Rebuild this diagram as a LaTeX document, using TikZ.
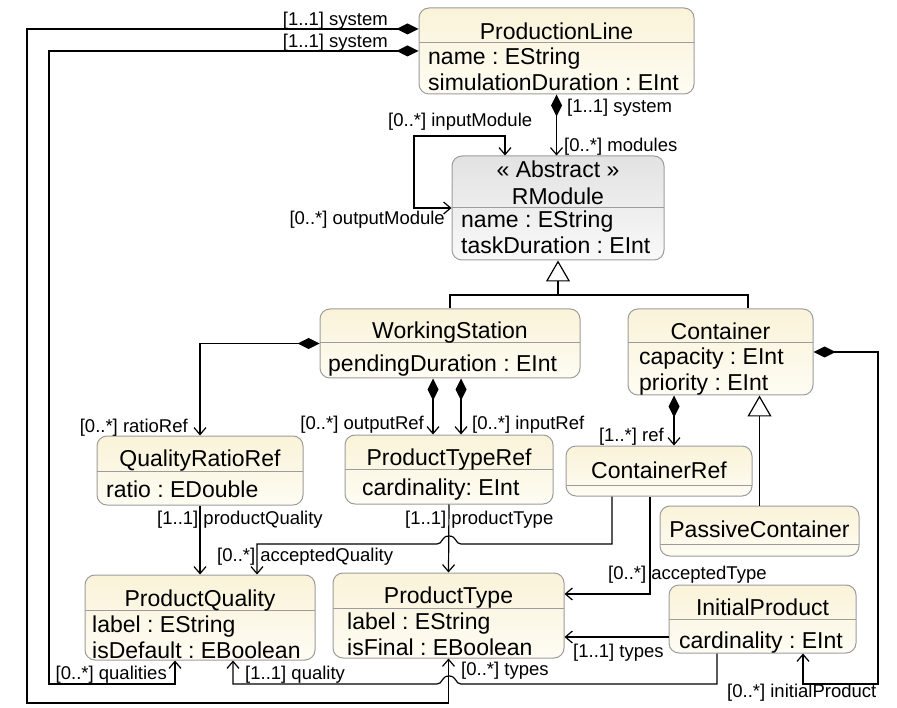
\documentclass[tikz,border=0pt]{standalone}
\usepackage{fontspec}
\setmainfont{Liberation Sans}
\usetikzlibrary{arrows.meta,fit}
\frenchspacing

\definecolor{creamtop}{HTML}{FAF3D9}
\definecolor{creambot}{HTML}{FEFCF3}
\definecolor{greytop}{HTML}{E2E2E2}
\definecolor{greybot}{HTML}{F9F9F9}
\definecolor{boxline}{HTML}{9C9C9C}

\tikzset{
  cls/.style={draw=boxline, line width=1pt, rounded corners=10pt, inner sep=0pt,
    top color=creamtop, bottom color=creambot},
  abscls/.style={cls, top color=greytop, bottom color=greybot},
  divider/.style={draw=boxline, line width=1pt},
  ttl/.style={font=\fontsize{23}{26}\selectfont, inner sep=0pt, anchor=base},
  attr/.style={font=\fontsize{23}{26}\selectfont, inner sep=0pt, anchor=base west},
  lbl/.style={font=\fontsize{18.5}{20}\selectfont, inner sep=0pt},
  conn/.style={line width=1.2pt, black},
  assoc/.style={conn, -{Straight Barb[length=7pt,width=12pt]}},
  comp/.style={conn, {Diamond[length=22pt,width=11pt]}-{Straight Barb[length=7pt,width=12pt]}},
  biassoc/.style={conn, {Straight Barb[length=7pt,width=12pt]}-{Straight Barb[length=7pt,width=12pt]}},
  gen/.style={conn, -{Triangle[length=21pt,width=24pt,fill=white]}},
}

% class frame: id, x1, y1, x2, y2, divider y, style
\newcommand\umlframe[7]{%
  \node[#7, fit={(#2,#3) (#4,#5)}] (#1) {};
  \draw[divider] (#2,#6) -- (#4,#6);
}

\begin{document}
\begin{tikzpicture}[x=1pt,y=-1pt]
\useasboundingbox (0,0) rectangle (897,708);
\fill[white] (0,0) rectangle (897,708);

% ---- classes ----
\umlframe{pl}{419}{8}{694}{94}{43}{cls}
\node[ttl] (pl-t) at (556.5,40) {ProductionLine};
\node[attr] (pl-a1) at (428,65) {name : EString};
\node[attr] (pl-a2) at (428,91) {simulationDuration : EInt};

\umlframe{rm}{452}{156}{664}{260}{208}{abscls}
\node[ttl] (rm-s) at (558,178) {« Abstract »};
\node[ttl] (rm-t) at (558,205) {RModule};
\node[attr] (rm-a1) at (461,228) {name : EString};
\node[attr] (rm-a2) at (461,254) {taskDuration : EInt};

\umlframe{ws}{320}{309}{580}{378}{343}{cls}
\node[ttl] (ws-t) at (450,339) {WorkingStation};
\node[attr] (ws-a1) at (328,372) {pendingDuration : EInt};

\umlframe{ct}{628}{309}{813}{395}{343}{cls}
\node[ttl] (ct-t) at (720.5,340) {Container};
\node[attr] (ct-a1) at (639,365) {capacity : EInt};
\node[attr] (ct-a2) at (639,391) {priority : EInt};

\umlframe{qrr}{97}{436}{303}{505}{471}{cls}
\node[ttl] (qrr-t) at (200,466) {QualityRatioRef};
\node[attr] (qrr-a1) at (106,497) {ratio : EDouble};

\umlframe{ptr}{345}{435}{553}{504}{469}{cls}
\node[ttl] (ptr-t) at (449,465) {ProductTypeRef};
\node[attr] (ptr-a1) at (362,495) {cardinality: EInt};

\umlframe{cr}{566}{446}{752}{496}{485}{cls}
\node[ttl] (cr-t) at (659,478) {ContainerRef};

\umlframe{pc}{660}{506}{859}{556}{544}{cls}
\node[ttl] (pc-t) at (759.5,537) {PassiveContainer};

\umlframe{pq}{85}{575}{315}{660}{610}{cls}
\node[ttl] (pq-t) at (200,606) {ProductQuality};
\node[attr] (pq-a1) at (92,632) {label : EString};
\node[attr] (pq-a2) at (92,658) {isDefault : EBoolean};

\umlframe{pt}{333}{573}{564}{658}{608}{cls}
\node[ttl] (pt-t) at (448.5,603) {ProductType};
\node[attr] (pt-a1) at (347,629) {label : EString};
\node[attr] (pt-a2) at (347,655) {isFinal : EBoolean};

\umlframe{ip}{669}{585}{856}{653}{619}{cls}
\node[ttl] (ip-t) at (762.5,615) {InitialProduct};
\node[attr] (ip-a1) at (679,648) {cardinality : EInt};

% ---- generalizations ----
\coordinate (gtrunk) at (558,295);
\draw[gen] (gtrunk) -- (rm.south);
\draw[conn] (ws.north) -- (450,295) -- (748,295) -- ([xshift=27.5pt]ct.north);
\draw[gen] (pc.north) -- ([xshift=39pt]ct.south);

% ---- compositions ----
\draw[comp] ([yshift=22pt]pl.west) -- (27,29) -- (27,703) -- (448.5,703) -- (pt.south);
\draw[comp] (pl.west) -- (49,51) -- (49,684) -- (175,684) -- ([xshift=-25pt]pq.south);
\draw[comp] (pl.south) -- (pl.south |- rm.north);
\draw[comp] (ws.west) -- (200,343.5) -- (qrr.north);
\draw[comp] ([xshift=-17pt]ws.south) -- ([xshift=-16pt]ptr.north);
\draw[comp] ([xshift=11pt]ws.south) -- ([xshift=12pt]ptr.north);
\draw[comp] ([xshift=-46.5pt]ct.south) -- ([xshift=15pt]cr.north);
\draw[comp] (ct.east) -- (878,352) -- (878,684) -- (803,684) -- ([xshift=40.5pt]ip.south);

% ---- references ----
\draw[biassoc] ([xshift=-53pt]rm.north) -- (505,136) -- (414,136) -- (414,208) -- (rm.west);
\draw[assoc] (qrr.south) -- (pq.north);
\draw[assoc] (ptr.south) -- (pt.north);
\draw[assoc] ([xshift=-47pt]cr.south) -- (612,544) -- (461,544)
  .. controls (455,544) and (457,536) .. (449,536)
  .. controls (441,536) and (443,544) .. (437,544)
  -- (257,544) -- ([xshift=57pt]pq.north);
\draw[assoc] ([xshift=-9pt]cr.south) -- (650,594) -- ([yshift=21.5pt]pt.east);
\draw[assoc] ([yshift=-18pt]ip.west) -- ([yshift=-21.5pt]pt.east);
\draw[assoc] ([xshift=-45.5pt]ip.south) -- (717,684) -- (461,684)
  .. controls (455,684) and (457,676) .. (449,676)
  .. controls (441,676) and (443,684) .. (437,684)
  -- (233,684) -- ([xshift=33pt]pq.south);

% ---- role labels ----
\node[lbl, anchor=base east] (l1) at (388,26) {[1..1] system};
\node[lbl, anchor=base east] (l2) at (388,48) {[1..1] system};
\node[lbl, anchor=base west] (l3) at (567,113) {[1..1] system};
\node[lbl, anchor=base west] (l4) at (564,152) {[0..*] modules};
\node[lbl, anchor=base west] (l5) at (388,127) {[0..*] inputModule};
\node[lbl, anchor=base east] (l6) at (445,225) {[0..*] outputModule};
\node[lbl, anchor=base east] (l7) at (188,432) {[0..*] ratioRef};
\node[lbl, anchor=base east] (l8) at (424,430) {[0..*] outputRef};
\node[lbl, anchor=base west] (l9) at (472,430) {[0..*] inputRef};
\node[lbl, anchor=base east] (l10) at (664,442) {[1..*] ref};
\node[lbl, anchor=base west] (l11) at (157,524) {[1..1] productQuality};
\node[lbl, anchor=base west] (l12) at (405,524) {[1..1] productType};
\node[lbl, anchor=base west] (l13) at (217,561) {[0..*] acceptedQuality};
\node[lbl, anchor=base west] (l14) at (608,579) {[0..*] acceptedType};
\node[lbl, anchor=base west] (l15) at (573,657) {[1..1] types};
\node[lbl, anchor=base west] (l16) at (461,675) {[0..*] types};
\node[lbl, anchor=base east] (l17) at (167,679) {[0..*] qualities};
\node[lbl, anchor=base west] (l18) at (245,679) {[1..1] quality};
\node[lbl, anchor=base west] (l19) at (727,697) {[0..*] initialProduct};
\end{tikzpicture}
\end{document}
